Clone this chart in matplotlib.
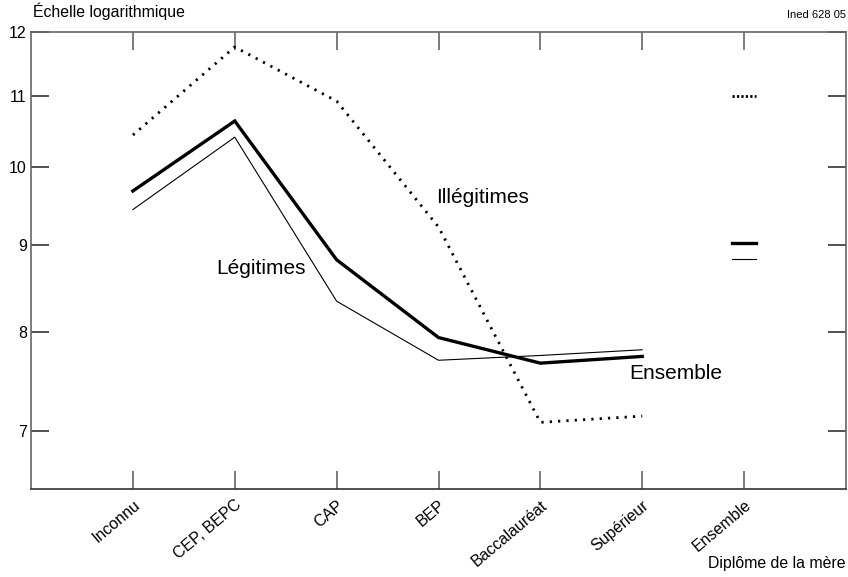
# Log-scale chart by mother's diploma
import numpy as np
import matplotlib.pyplot as plt
import matplotlib.transforms as mtransforms
from matplotlib.ticker import FixedLocator, NullLocator, FixedFormatter

plt.rcParams['font.family'] = ['Liberation Sans', 'DejaVu Sans']

categories = ['Inconnu', 'CEP, BEPC', 'CAP', 'BEP', 'Baccalauréat', 'Supérieur', 'Ensemble']
illegitimes = [10.44, 11.76, 10.93, 9.22, 7.08, 7.14]
ensemble = [9.68, 10.64, 8.82, 7.94, 7.67, 7.74]
legitimes = [9.44, 10.41, 8.34, 7.70, 7.75, 7.81]
total_illeg = 11.0
total_ens = 9.02
total_leg = 8.83
yticks = [7, 8, 9, 10, 11, 12]

fig = plt.figure(figsize=(8.48, 5.77), dpi=100)
ax = fig.add_axes([0.0366, 0.1525, 0.961, 0.792])

x = np.arange(len(illegitimes))
ax.plot(x, illegitimes, color='black', lw=2.0, linestyle=(0, (0.8, 2.2)))
ax.plot(x, ensemble, color='black', lw=2.4, solid_joinstyle='miter')
ax.plot(x, legitimes, color='black', lw=0.8)

# short bars for the "Ensemble" column
xe = len(categories) - 1
half = 0.12
ax.plot([xe - half, xe + half], [total_illeg] * 2, color='black', lw=2.0, linestyle=(0, (0.8, 0.8)))
ax.plot([xe - half, xe + half], [total_ens] * 2, color='black', lw=2.4)
ax.plot([xe - half, xe + half], [total_leg] * 2, color='black', lw=0.8)

ax.set_yscale('log')
ax.set_ylim(6.47, 12)
ax.set_xlim(-1, 7)
ax.yaxis.set_major_locator(FixedLocator(yticks))
ax.yaxis.set_major_formatter(FixedFormatter([str(v) for v in yticks]))
ax.yaxis.set_minor_locator(NullLocator())
ax.set_xticks(np.arange(len(categories)))
ax.set_xticklabels(categories, rotation=40, ha='right', va='top', rotation_mode='anchor', fontsize=11.5)
shift = mtransforms.ScaledTranslation(8 / 100, 0, fig.dpi_scale_trans)
for lab in ax.get_xticklabels():
    lab.set_transform(lab.get_transform() + shift)

ax.tick_params(axis='x', direction='in', length=13, width=1.2, color='#666666', top=True, pad=6)
ax.tick_params(axis='y', direction='in', length=13, width=1.2, color='#333333', right=True, labelsize=11.5, pad=3)
for s in ax.spines.values():
    s.set_color('#666666')
    s.set_linewidth(1.2)
ax.spines['bottom'].set_color('#333333')

ax.text(1.26, 8.72, 'Légitimes', fontsize=15, ha='center', va='center')
ax.text(3.43, 9.59, 'Illégitimes', fontsize=15, ha='center', va='center')
ax.text(5.33, 7.56, 'Ensemble', fontsize=15, ha='center', va='center')

fig.text(0.039, 0.965, 'Échelle logarithmique', fontsize=11.4, ha='left', va='bottom')
fig.text(0.998, 0.965, 'Ined 628 05', fontsize=8, ha='right', va='bottom')
fig.text(0.997, 0.01, 'Diplôme de la mère', fontsize=11.4, ha='right', va='bottom')

plt.savefig('out.png', dpi=100)
